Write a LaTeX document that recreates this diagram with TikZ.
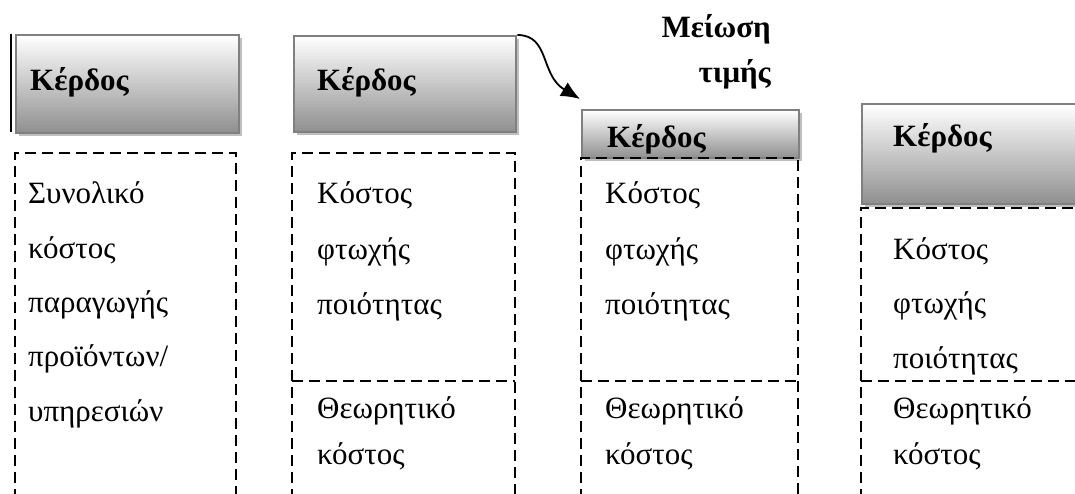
\documentclass[tikz,border=0pt]{standalone}
\usepackage{fontspec}
\setmainfont{Liberation Serif}
\usetikzlibrary{arrows.meta}
\usetikzlibrary{shadows}
\definecolor{framegray}{gray}{0.5}
\definecolor{shadebot}{gray}{0.56}
\tikzset{>=Latex}
\tikzset{
  head/.style = {draw=framegray, line width=2.4pt, top color=white, bottom color=shadebot,
    drop shadow={shadow xshift=3pt, shadow yshift=-3pt, fill=black!25, opacity=1},
    anchor=north west, inner sep=0pt},
  cell/.style = {line width=2.6pt, dash pattern=on 11pt off 6pt},
  txt/.style = {anchor=base west, inner sep=0pt, font=\fontsize{31}{36}\selectfont},
  btxt/.style = {inner sep=0pt, font=\fontsize{31}{36}\selectfont\bfseries}
}

\begin{document}
\begin{tikzpicture}[x=1pt, y=-1pt]
\useasboundingbox (0,0) rectangle (1075,494);
\clip (0,0) rectangle (1075,494);

% profit bars on top
\node [head, minimum width=223, minimum height=98] (hd1) at (15,34) {};
\node [head, minimum width=222, minimum height=96] (hd2) at (293,35) {};
\node [head, minimum width=217, minimum height=48] (hd3) at (581,109) {};
\node [head, minimum width=230, minimum height=100] (hd4) at (861,103) {};
\draw [line width=1.5pt] (hd1.north west) ++(-4,0) -- ++(0,98);

\node [btxt, anchor=base west] (k1) at (30,91) {Κέρδος};
\node [btxt, anchor=base west] (k2) at (317,91) {Κέρδος};
\node [btxt, anchor=base west] (k3) at (607,148) {Κέρδος};
\node [btxt, anchor=base west] (k4) at (893,147) {Κέρδος};

% price cut
\node [btxt, anchor=base east] (cut1) at (771,38) {Μείωση};
\node [btxt, anchor=base east] (cut2) at (771,83) {τιμής};
\coordinate (tip) at (580,99);
\draw [-{Latex[length=19pt, width=16pt]}, line width=1.8pt] (hd2.north east) .. controls (550,35) and (540,75) .. (tip);

% dashed cost columns
\draw [cell] (15,500) -- (15,153) -- (236,153) -- (236,500);
\draw [cell] (292,500) -- (292,153) -- (515,153) -- (515,500);
\draw [cell] (292,381) -- (515,381);
\draw [cell] (581,500) -- (581,158) -- (798,158) -- (798,500);
\draw [cell] (581,381) -- (798,381);
\draw [cell] (861,500) -- (861,208) -- (1080,208);
\draw [cell] (861,381) -- (1080,381);

\foreach \t [count=\i] in {Συνολικό, κόστος, παραγωγής, προϊόντων/, υπηρεσιών}
  \node [txt] (a\i) at (28,{204+54.3*(\i-1)}) {\t};
\foreach \t [count=\i] in {Κόστος, φτωχής, ποιότητας}
  \node [txt] (b\i) at (317,{204+55*(\i-1)}) {\t};
\foreach \t [count=\i] in {Κόστος, φτωχής, ποιότητας}
  \node [txt] (c\i) at (605,{204+55*(\i-1)}) {\t};
\foreach \t [count=\i] in {Κόστος, φτωχής, ποιότητας}
  \node [txt] (d\i) at (893,{259+54.5*(\i-1)}) {\t};
\foreach \x/\n in {317/b, 605/c, 893/d} {
  \node [txt] (\n th) at (\x,418) {Θεωρητικό};
  \node [txt] (\n ks) at (\x,464) {κόστος};
}
\end{tikzpicture}
\end{document}
